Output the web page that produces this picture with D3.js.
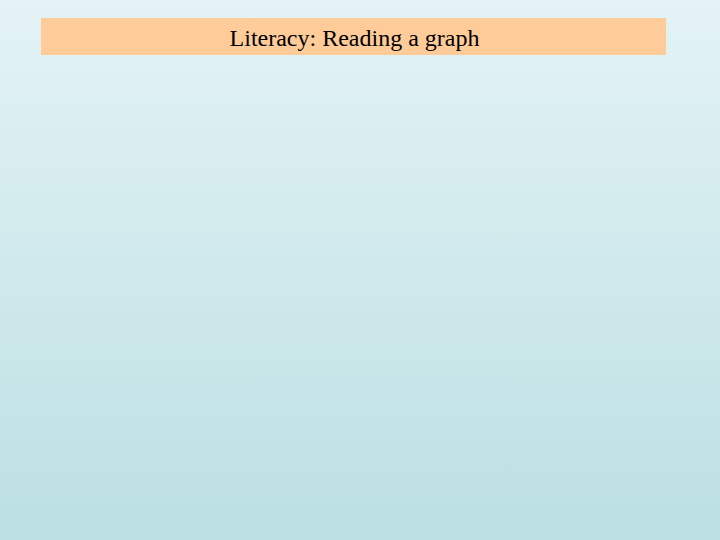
<!DOCTYPE html>
<html><head><meta charset="utf-8">
<script src="https://cdn.jsdelivr.net/npm/d3@7"></script>
<style>html,body{margin:0;padding:0;overflow:hidden}</style>
</head><body>
<script>
const titleText = ["Literacy: Reading a graph"];
const gradientStops = [{offset:"0%",color:"#e4f3f5"},{offset:"100%",color:"#bbdfe2"}];

const W = 720, H = 540;
const svg = d3.select("body").append("svg").attr("width", W).attr("height", H);
const defs = svg.append("defs");
const lg = defs.append("linearGradient").attr("id","bg").attr("x1",0).attr("y1",0).attr("x2",0).attr("y2",1);
lg.selectAll("stop").data(gradientStops).join("stop")
  .attr("offset", d => d.offset).attr("stop-color", d => d.color);
svg.append("rect").attr("width", W).attr("height", H).attr("fill","url(#bg)");

const g = svg.selectAll("g.title").data(titleText).join("g").attr("class","title");
g.append("rect").attr("x",41).attr("y",18).attr("width",625).attr("height",37).attr("fill","#ffcc99");
g.append("text").attr("x",354.5).attr("y",46).attr("text-anchor","middle")
  .attr("font-family","'Liberation Serif', 'Times New Roman', serif").attr("font-size",24)
  .attr("fill","#000").text(d => d);
</script>
</body></html>
